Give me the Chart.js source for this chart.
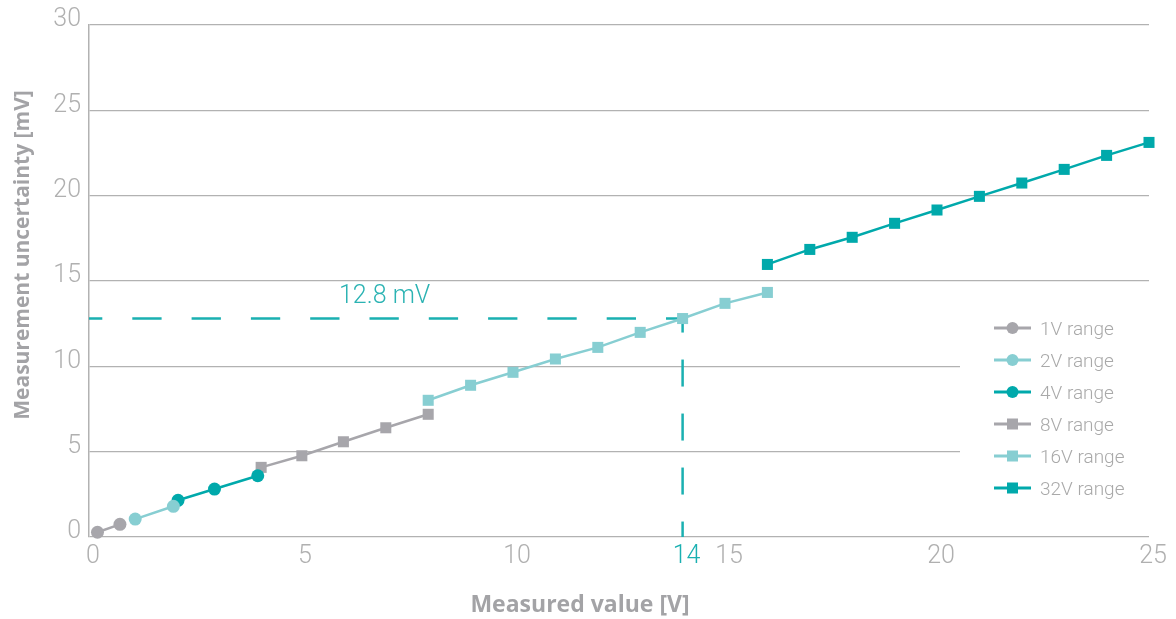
<!DOCTYPE html>
<html>
<head>
<meta charset="utf-8">
<script src="https://cdn.jsdelivr.net/npm/chart.js@4.4.1/dist/chart.umd.min.js"></script>
<style>
  html, body { margin: 0; padding: 0; background: #fff; }
  #wrap { width: 1176px; height: 619px; }
</style>
</head>
<body>
<div id="wrap"><canvas id="acc"></canvas></div>
<script>
const seriesLabels = ['1V range', '2V range', '4V range', '8V range', '16V range', '32V range'];

const x1V = [0.2, 0.73];
const y1V = [0.28, 0.74];
const x2V = [1.09, 1.99];
const y2V = [1.05, 1.8];
const x4V = [2.1, 2.96, 3.98];
const y4V = [2.15, 2.81, 3.59];
const x8V = [4.06, 5.02, 6, 7, 8];
const y8V = [4.08, 4.76, 5.58, 6.4, 7.19];
const x16V = [8, 9, 10, 11, 12, 13, 14, 15, 16];
const y16V = [8.01, 8.89, 9.65, 10.43, 11.11, 11.99, 12.8, 13.69, 14.33];
const x32V = [16, 17, 18, 19, 20, 21, 22, 23, 24, 25];
const y32V = [15.97, 16.85, 17.56, 18.38, 19.16, 19.96, 20.74, 21.54, 22.36, 23.12];

const xTicks = [0, 5, 10, 14, 15, 20, 25];
const markX = 14;
const markY = 12.8;
const markLabel = '12.8 mV';

const gray = '#a7a6ab';
const lightTeal = '#87ced2';
const teal = '#00a9ab';
const tickGray = '#b0b0b0';
const lightFont = 'Roboto, "Open Sans", sans-serif';
const boldFont = '"Open Sans", Roboto, sans-serif';

const xs = [x1V, x2V, x4V, x8V, x16V, x32V];
const ys = [y1V, y2V, y4V, y8V, y16V, y32V];
const colors = [gray, lightTeal, teal, gray, lightTeal, teal];
const shapes = ['circle', 'circle', 'circle', 'rect', 'rect', 'rect'];

const datasets = seriesLabels.map((label, i) => ({
  label: label,
  data: xs[i].map((x, j) => ({ x: x, y: ys[i][j] })),
  showLine: true,
  clip: false,
  borderColor: colors[i],
  backgroundColor: colors[i],
  borderWidth: 2.5,
  pointStyle: shapes[i],
  pointRadius: shapes[i] === 'rect' ? 7.8 : 6.5,
  pointBorderWidth: 0
}));

const deco = {
  id: 'deco',
  beforeDatasetsDraw(chart) {
    const ctx = chart.ctx;
    const xS = chart.scales.x, yS = chart.scales.y;
    const area = chart.chartArea;
    ctx.save();
    // white box behind the legend cuts the grid lines
    ctx.fillStyle = '#fff';
    ctx.fillRect(960, 296, area.right - 960 + 1, 220);
    // dashed marker lines
    const px = xS.getPixelForValue(markX);
    const py = yS.getPixelForValue(markY);
    ctx.strokeStyle = '#1ab0b1';
    ctx.lineWidth = 2.5;
    ctx.setLineDash([29.3, 30]);
    ctx.lineDashOffset = 16;
    ctx.beginPath();
    ctx.moveTo(area.left, py);
    ctx.lineTo(px, py);
    ctx.stroke();
    ctx.setLineDash([27, 27]);
    ctx.lineDashOffset = 13;
    ctx.beginPath();
    ctx.moveTo(px, py);
    ctx.lineTo(px, area.bottom);
    ctx.stroke();
    ctx.restore();
  },
  afterDraw(chart) {
    const ctx = chart.ctx;
    ctx.save();
    // annotation text
    ctx.fillStyle = '#2bb3b3';
    ctx.font = '300 25px ' + lightFont;
    ctx.textAlign = 'left';
    ctx.textBaseline = 'alphabetic';
    ctx.fillText(markLabel, 339, 303);

    // legend
    chart.data.datasets.forEach((ds, i) => {
      const cy = 328 + i * 32;
      ctx.strokeStyle = ds.borderColor;
      ctx.fillStyle = ds.borderColor;
      ctx.lineWidth = 3;
      ctx.setLineDash([]);
      ctx.beginPath();
      ctx.moveTo(994, cy);
      ctx.lineTo(1031, cy);
      ctx.stroke();
      if (ds.pointStyle === 'circle') {
        ctx.beginPath();
        ctx.arc(1012.5, cy, 6, 0, Math.PI * 2);
        ctx.fill();
      } else {
        ctx.fillRect(1007, cy - 5.5, 11, 11);
      }
      ctx.fillStyle = '#a9a9a9';
      ctx.font = '300 19px ' + lightFont;
      ctx.fillText(ds.label, 1040, cy + 6.5);
    });

    // axis titles
    ctx.fillStyle = '#a3a3a6';
    ctx.textAlign = 'center';
    ctx.font = 'bold 23px ' + boldFont;
    ctx.fillText('Measured value [V]', 580, 612);
    ctx.font = 'bold 21px ' + boldFont;
    ctx.translate(29, 255);
    ctx.rotate(-Math.PI / 2);
    ctx.fillText('Measurement uncertainty [mV]', 0, 0);
    ctx.restore();
  }
};

new Chart(document.getElementById('acc'), {
  type: 'scatter',
  data: { datasets: datasets },
  options: {
    responsive: true,
    maintainAspectRatio: false,
    animation: false,
    layout: { padding: { top: 25, right: 27, left: 0, bottom: 0 } },
    plugins: {
      legend: { display: false },
      tooltip: { enabled: false }
    },
    scales: {
      x: {
        type: 'linear',
        min: 0,
        max: 25,
        afterBuildTicks: s => { s.ticks = xTicks.map(v => ({ value: v })); },
        afterFit: s => { s.height = 82; },
        grid: { display: false, drawTicks: false },
        border: { display: false },
        ticks: {
          autoSkip: false,
          maxRotation: 0,
          padding: 5,
          labelOffset: 4,
          color: c => c.tick && c.tick.value === markX ? '#1ab0b1' : tickGray,
          font: { family: lightFont, size: 25, weight: 300 }
        }
      },
      y: {
        min: 0,
        max: 30,
        afterFit: s => { s.width = 89; },
        grid: { color: '#b2b2b2', lineWidth: 1.3, drawTicks: false },
        border: { color: '#b2b2b2', width: 1.5 },
        ticks: {
          stepSize: 5,
          padding: 8,
          labelOffset: -5,
          color: tickGray,
          font: { family: lightFont, size: 25, weight: 300 }
        }
      }
    }
  },
  plugins: [deco]
});
</script>
</body>
</html>
